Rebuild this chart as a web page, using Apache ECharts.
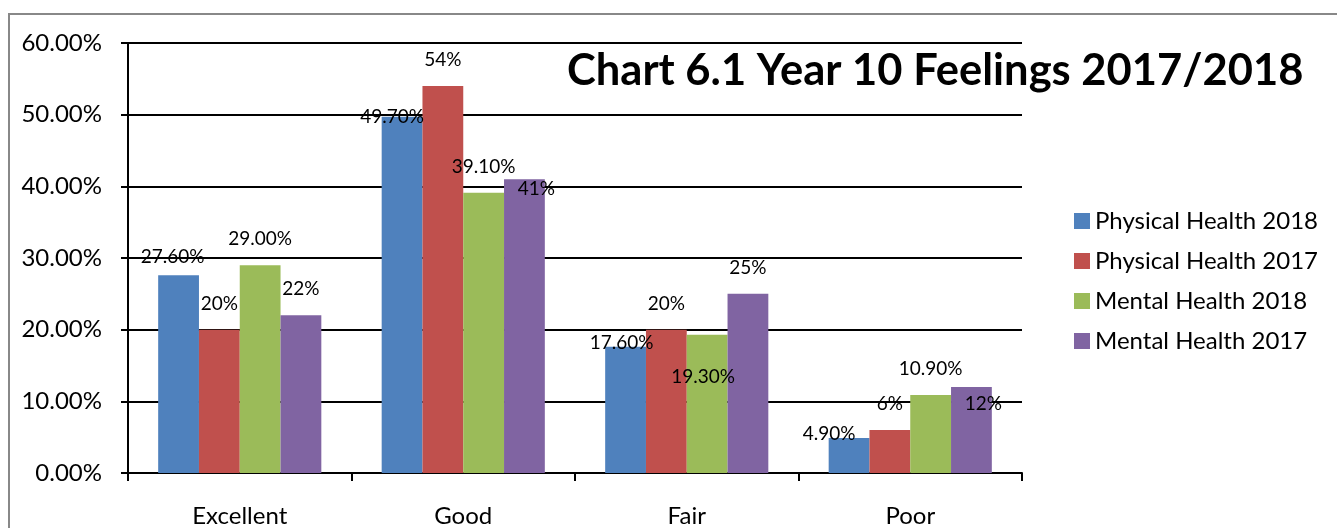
<!DOCTYPE html>
<html>
<head>
<meta charset="utf-8">
<script src="https://cdn.jsdelivr.net/npm/echarts@6/dist/echarts.min.js"></script>
<style>
  html, body { margin: 0; padding: 0; background: #fff; }
  #chart { width: 1337px; height: 528px; }
</style>
</head>
<body>
<div id="chart"></div>
<script>
// categories and series values (percent)
const categories = ['Excellent', 'Good', 'Fair', 'Poor'];
const seriesNames = ['Physical Health 2018', 'Physical Health 2017', 'Mental Health 2018', 'Mental Health 2017'];
const physical2018 = [27.6, 49.7, 17.6, 4.9];
const physical2017 = [20, 54, 20, 6];
const mental2018 = [29.0, 39.1, 19.3, 10.9];
const mental2017 = [22, 41, 25, 12];
const yTicks = [0, 10, 20, 30, 40, 50, 60];

const colors = ['#4F81BD', '#C0504D', '#9BBB59', '#8064A2'];
const FONT = 'Lato';

// label nudges [dx, dy] where excel had moved a label (series index -> category index)
const labelNudges = {
  0: { 0: [-6, -8], 1: [-10, 10], 2: [-4, 6], 3: [-20, 6] },
  2: { 2: [-4, 52] },
  3: { 1: [12, 20], 3: [12, 27] }
};

const allValues = [physical2018, physical2017, mental2018, mental2017];

// 2018 series show two decimals, 2017 series whole numbers
const fmt = (si, v) => (si % 2 === 0 ? v.toFixed(2) : String(v)) + '%';

const series = allValues.map((vals, si) => ({
  name: seriesNames[si],
  type: 'bar',
  barGap: '0%',
  barCategoryGap: '27%',
  itemStyle: { color: colors[si] },
  data: vals.map((v, ci) => {
    const n = (labelNudges[si] && labelNudges[si][ci]) || [0, -16];
    return {
      value: v,
      label: {
        show: true,
        position: 'top',
        distance: 0,
        offset: n,
        formatter: () => fmt(si, v),
        fontFamily: FONT,
        fontSize: 19,
        lineHeight: 20,
        color: '#000'
      }
    };
  })
}));

const chart = echarts.init(document.getElementById('chart'));
chart.setOption({
  animation: false,
  backgroundColor: '#fff',
  title: {
    text: 'Chart 6.1 Year 10 Feelings 2017/2018',
    left: 562,
    top: 44,
    textStyle: { fontFamily: FONT, fontWeight: 'bold', fontSize: 43.5, color: '#000' }
  },
  legend: {
    orient: 'vertical',
    left: 1069,
    top: 204,
    itemWidth: 16,
    itemHeight: 16,
    itemGap: 16,
    icon: 'rect',
    data: seriesNames,
    textStyle: { fontFamily: FONT, fontSize: 24, color: '#000' }
  },
  graphic: [{
    type: 'rect',
    shape: { x: 9, y: 14, width: 1400, height: 600 },
    style: { fill: 'none', stroke: '#888', lineWidth: 2 },
    silent: true
  }],
  grid: { left: 128, right: 315, top: 43, bottom: 55 },
  xAxis: {
    type: 'category',
    data: categories,
    axisLine: { lineStyle: { color: '#000', width: 2 } },
    axisTick: { show: true, length: 8, lineStyle: { color: '#000', width: 2 } },
    axisLabel: { fontFamily: FONT, fontSize: 24, color: '#000', margin: 31 }
  },
  yAxis: {
    type: 'value',
    min: yTicks[0],
    max: yTicks[yTicks.length - 1],
    interval: 10,
    axisLine: { show: true, lineStyle: { color: '#000', width: 2 } },
    axisTick: { show: true, length: 7, lineStyle: { color: '#000', width: 2 } },
    splitLine: { lineStyle: { color: '#000', width: 2 } },
    axisLabel: {
      fontFamily: FONT, fontSize: 24, color: '#000', margin: 26,
      formatter: v => v.toFixed(2) + '%'
    }
  },
  series: series
});
</script>
</body>
</html>
